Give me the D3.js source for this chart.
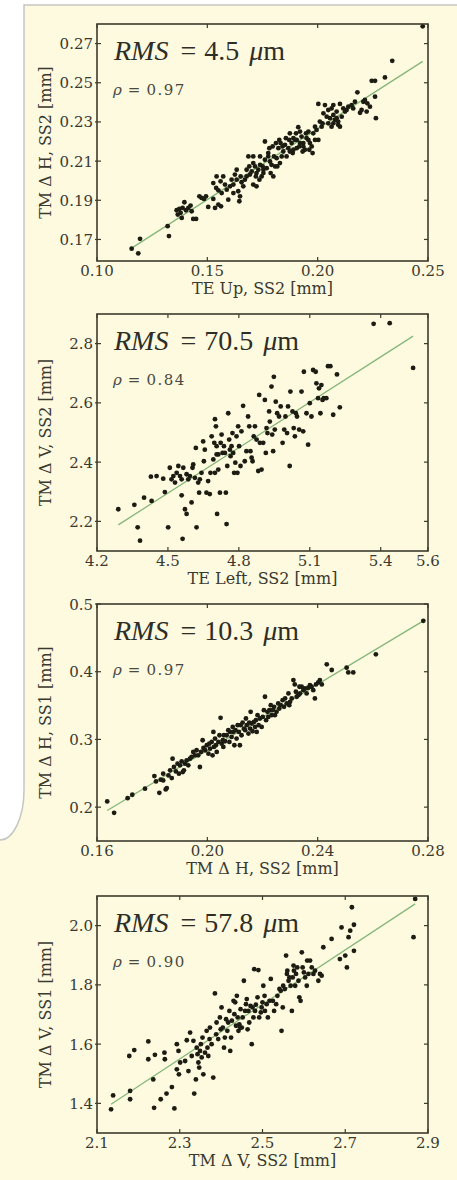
<!DOCTYPE html>
<html><head><meta charset="utf-8">
<script src="https://cdn.jsdelivr.net/npm/d3@7"></script>
<style>body{margin:0;background:#fdfadf;} svg{display:block}</style>
</head><body><svg id="c" width="457" height="1180"></svg>
<script>
// ---------- DATA ----------
const xTitles = ["TE Up, SS2 [mm]", "TE Left, SS2 [mm]", "TM \u0394 H, SS2 [mm]", "TM \u0394 V, SS2 [mm]"];
const yTitles = ["TM \u0394 H, SS2 [mm]", "TM \u0394 V, SS2 [mm]", "TM \u0394 H, SS1 [mm]", "TM \u0394 V, SS1 [mm]"];
const rmsValues = ["4.5", "70.5", "10.3", "57.8"];
const rhoValues = ["0.97", "0.84", "0.97", "0.90"];
const xDomains = [[0.10, 0.25], [4.2, 5.6], [0.16, 0.28], [2.1, 2.9]];
const yDomains = [[0.159, 0.280], [2.1, 2.9], [0.15, 0.50], [1.3, 2.1]];
const xTicks = [[0.10, 0.15, 0.20, 0.25], [4.2, 4.5, 4.8, 5.1, 5.4, 5.6], [0.16, 0.20, 0.24, 0.28], [2.1, 2.3, 2.5, 2.7, 2.9]];
const xTickLabels = [["0.10", "0.15", "0.20", "0.25"], ["4.2", "4.5", "4.8", "5.1", "5.4", "5.6"], ["0.16", "0.20", "0.24", "0.28"], ["2.1", "2.3", "2.5", "2.7", "2.9"]];
const yTicks = [[0.17, 0.19, 0.21, 0.23, 0.25, 0.27], [2.2, 2.4, 2.6, 2.8], [0.2, 0.3, 0.4, 0.5], [1.4, 1.6, 1.8, 2.0]];
const yTickLabels = [["0.17", "0.19", "0.21", "0.23", "0.25", "0.27"], ["2.2", "2.4", "2.6", "2.8"], ["0.2", "0.3", "0.4", "0.5"], ["1.4", "1.6", "1.8", "2.0"]];
const fitSlopes = [0.723, 0.511, 2.443, 0.920];
const fitIntercepts = [0.0819, -0.004, -0.2048, -0.566];

const teUpVsDH = [[0.1157,0.1653],[0.1187,0.1629],[0.1195,0.1703],[0.132,0.1768],[0.1326,0.1717],[0.1361,0.1849],[0.1366,0.1827],[0.1373,0.1856],[0.1379,0.1836],[0.1388,0.1861],[0.1396,0.189],[0.1403,0.1849],[0.1414,0.1861],[0.1424,0.1873],[0.1429,0.1844],[0.1384,0.181],[0.1436,0.1805],[0.1449,0.1805],[0.1464,0.192],[0.1474,0.1912],[0.1485,0.1907],[0.1494,0.192],[0.1504,0.1866],[0.1527,0.1907],[0.1535,0.1861],[0.155,0.1878],[0.1562,0.1869],[0.1527,0.1988],[0.154,0.1963],[0.155,0.1951],[0.156,0.1997],[0.1572,0.2022],[0.158,0.198],[0.1588,0.1954],[0.1603,0.1971],[0.161,0.2005],[0.1618,0.198],[0.1625,0.2031],[0.1633,0.2056],[0.164,0.1946],[0.1645,0.1895],[0.1648,0.192],[0.1655,0.1992],[0.1663,0.1971],[0.167,0.2005],[0.1686,0.2124],[0.1678,0.2022],[0.1693,0.2031],[0.1701,0.2047],[0.1708,0.198],[0.1716,0.2073],[0.1723,0.2039],[0.1731,0.2056],[0.1739,0.2081],[0.1746,0.2022],[0.1754,0.2056],[0.1761,0.2107],[0.1769,0.2064],[0.1776,0.2124],[0.1784,0.2098],[0.1791,0.2081],[0.1761,0.22],[0.1776,0.2141],[0.1799,0.2022],[0.1807,0.2073],[0.1814,0.2115],[0.1822,0.2166],[0.1829,0.209],[0.1837,0.2124],[0.1844,0.2149],[0.1852,0.2183],[0.1859,0.2124],[0.1867,0.2166],[0.1874,0.2149],[0.1882,0.2192],[0.189,0.2158],[0.1897,0.2208],[0.1905,0.2166],[0.1912,0.2273],[0.192,0.2192],[0.1927,0.2225],[0.1935,0.2175],[0.1942,0.2158],[0.195,0.2217],[0.1958,0.2251],[0.1965,0.2192],[0.1973,0.2175],[0.198,0.2242],[0.1988,0.2208],[0.1995,0.2259],[0.2003,0.2392],[0.201,0.2302],[0.2018,0.2276],[0.2026,0.2344],[0.2033,0.2386],[0.2041,0.2327],[0.2048,0.2361],[0.2056,0.2319],[0.2063,0.2369],[0.2071,0.2336],[0.2078,0.231],[0.2086,0.2353],[0.2093,0.2285],[0.2101,0.2392],[0.2109,0.2327],[0.2124,0.2353],[0.2139,0.2378],[0.2154,0.2386],[0.2169,0.2403],[0.218,0.2451],[0.2192,0.2347],[0.2207,0.2403],[0.2214,0.2412],[0.2225,0.2395],[0.2245,0.251],[0.226,0.251],[0.2264,0.2319],[0.226,0.2429],[0.2305,0.2527],[0.2338,0.2612],[0.2476,0.2788],[0.1678,0.2056],[0.169,0.2073],[0.1708,0.209],[0.172,0.2022],[0.1736,0.2005],[0.1751,0.2073],[0.1781,0.2166],[0.1796,0.2175],[0.1811,0.2192],[0.1826,0.2208],[0.1841,0.2175],[0.1856,0.2217],[0.1871,0.2208],[0.1887,0.2141],[0.1902,0.2242],[0.1917,0.2175],[0.1932,0.2149],[0.1947,0.2242],[0.1962,0.2158],[0.1977,0.2141],[0.1542,0.2022],[0.1565,0.1937],[0.1595,0.1903],[0.1618,0.1937],[0.1633,0.2005],[0.1651,0.2022],[0.1708,0.2124],[0.1723,0.1971],[0.1739,0.2124],[0.1754,0.2039],[0.1787,0.2039],[0.1802,0.2124],[0.1817,0.2073],[0.1832,0.2192],[0.1874,0.2242],[0.189,0.2217],[0.1905,0.2208],[0.192,0.2251],[0.1935,0.2192],[0.1958,0.2208],[0.1988,0.2276],[0.2003,0.2208],[0.2022,0.2293],[0.2048,0.2293],[0.2063,0.2276],[0.2071,0.2293],[0.2086,0.2319],[0.2093,0.2302],[0.2101,0.2276],[0.2116,0.2369],[0.2131,0.2361],[0.2161,0.2369],[0.2199,0.2361],[0.2222,0.2353],[0.2237,0.2378],[0.2071,0.2386]];

const teLeftVsDV = [[4.290,2.241],[4.358,2.256],[4.372,2.180],[4.382,2.135],[4.399,2.280],[4.431,2.269],[4.428,2.351],[4.452,2.353],[4.480,2.344],[4.487,2.299],[4.501,2.180],[4.515,2.342],[4.523,2.353],[4.530,2.331],[4.508,2.381],[4.537,2.364],[4.544,2.387],[4.551,2.353],[4.558,2.342],[4.562,2.141],[4.558,2.288],[4.565,2.381],[4.572,2.241],[4.579,2.225],[4.586,2.342],[4.579,2.359],[4.593,2.353],[4.600,2.264],[4.604,2.381],[4.607,2.392],[4.614,2.347],[4.618,2.448],[4.621,2.180],[4.628,2.331],[4.632,2.297],[4.635,2.342],[4.642,2.364],[4.649,2.470],[4.652,2.403],[4.656,2.442],[4.663,2.297],[4.670,2.336],[4.677,2.292],[4.680,2.364],[4.685,2.487],[4.692,2.409],[4.696,2.465],[4.699,2.364],[4.706,2.426],[4.708,2.225],[4.713,2.375],[4.706,2.454],[4.703,2.521],[4.699,2.545],[4.713,2.426],[4.720,2.297],[4.723,2.465],[4.727,2.493],[4.731,2.431],[4.737,2.454],[4.741,2.431],[4.745,2.297],[4.748,2.191],[4.751,2.387],[4.755,2.565],[4.759,2.476],[4.762,2.442],[4.765,2.420],[4.769,2.454],[4.773,2.498],[4.776,2.431],[4.780,2.364],[4.785,2.398],[4.790,2.487],[4.794,2.364],[4.797,2.521],[4.801,2.454],[4.807,2.387],[4.811,2.504],[4.818,2.590],[4.825,2.403],[4.832,2.437],[4.839,2.554],[4.844,2.521],[4.849,2.437],[4.854,2.415],[4.858,2.403],[4.863,2.487],[4.868,2.521],[4.875,2.476],[4.882,2.370],[4.886,2.627],[4.889,2.465],[4.896,2.375],[4.903,2.465],[4.910,2.610],[4.914,2.431],[4.917,2.515],[4.921,2.498],[4.928,2.571],[4.931,2.537],[4.938,2.655],[4.941,2.493],[4.945,2.437],[4.948,2.688],[4.952,2.510],[4.956,2.604],[4.962,2.565],[4.970,2.554],[4.977,2.588],[4.985,2.465],[4.992,2.510],[4.997,2.554],[5.004,2.498],[5.008,2.588],[5.015,2.387],[5.018,2.638],[5.027,2.571],[5.032,2.515],[5.037,2.487],[5.041,2.565],[5.046,2.554],[5.055,2.510],[5.065,2.638],[5.072,2.504],[5.075,2.705],[5.086,2.565],[5.093,2.459],[5.100,2.599],[5.107,2.554],[5.114,2.711],[5.125,2.705],[5.128,2.666],[5.135,2.616],[5.139,2.649],[5.145,2.565],[5.149,2.660],[5.154,2.610],[5.159,2.616],[5.170,2.616],[5.177,2.724],[5.187,2.724],[5.199,2.560],[5.215,2.696],[5.227,2.585],[5.537,2.718],[5.370,2.867],[5.438,2.869]];

const dhSS2VsSS1 = [[0.1637,0.2084],[0.1662,0.1916],[0.1711,0.2133],[0.1728,0.2183],[0.1774,0.2272],[0.1808,0.2459],[0.1814,0.238],[0.1826,0.2212],[0.1831,0.2405],[0.184,0.2395],[0.1849,0.2262],[0.1853,0.2281],[0.184,0.2494],[0.1859,0.2469],[0.1865,0.2543],[0.1871,0.243],[0.1874,0.2716],[0.1879,0.2593],[0.1886,0.2528],[0.1892,0.2642],[0.1897,0.2494],[0.1901,0.2617],[0.1907,0.2677],[0.1911,0.2519],[0.1915,0.2543],[0.1919,0.2642],[0.1925,0.2691],[0.1931,0.2617],[0.1937,0.2716],[0.1943,0.2741],[0.1949,0.2815],[0.1955,0.2765],[0.1961,0.284],[0.1967,0.2765],[0.1973,0.2593],[0.1977,0.2815],[0.1983,0.2988],[0.1986,0.2874],[0.1992,0.284],[0.1998,0.2914],[0.2004,0.279],[0.2007,0.2938],[0.201,0.2864],[0.2016,0.2963],[0.2019,0.2765],[0.2022,0.3111],[0.2024,0.2889],[0.2028,0.3012],[0.2031,0.2914],[0.2034,0.2815],[0.204,0.2963],[0.2044,0.3062],[0.2048,0.3319],[0.2052,0.2938],[0.2056,0.2988],[0.2058,0.2889],[0.206,0.3062],[0.2064,0.2973],[0.207,0.3062],[0.2076,0.3136],[0.208,0.2963],[0.2082,0.3111],[0.2088,0.3037],[0.2092,0.3185],[0.2094,0.3111],[0.2098,0.2914],[0.2102,0.3136],[0.2106,0.3012],[0.211,0.321],[0.2114,0.3111],[0.2118,0.2914],[0.2121,0.321],[0.2124,0.3062],[0.2128,0.3249],[0.2133,0.316],[0.2137,0.3136],[0.214,0.3309],[0.2143,0.321],[0.2149,0.3086],[0.2152,0.3249],[0.2155,0.316],[0.2157,0.3407],[0.2161,0.3235],[0.2164,0.3121],[0.2169,0.3259],[0.2173,0.3185],[0.2176,0.3284],[0.2179,0.3111],[0.2182,0.3358],[0.2186,0.321],[0.2191,0.3309],[0.2197,0.3185],[0.2201,0.3333],[0.2205,0.3432],[0.2209,0.363],[0.2213,0.3284],[0.2218,0.3407],[0.2221,0.3333],[0.2225,0.3432],[0.223,0.3506],[0.2233,0.3358],[0.2237,0.3432],[0.2242,0.3481],[0.2245,0.3358],[0.2251,0.3407],[0.2257,0.3531],[0.2261,0.3457],[0.2266,0.3506],[0.2273,0.358],[0.2278,0.3481],[0.2282,0.3605],[0.2288,0.3531],[0.2294,0.3679],[0.2297,0.3506],[0.23,0.3556],[0.2306,0.3605],[0.2312,0.3877],[0.2317,0.3812],[0.2321,0.3704],[0.2324,0.363],[0.233,0.3654],[0.2334,0.3778],[0.2336,0.3679],[0.2342,0.3778],[0.2348,0.3728],[0.2354,0.3753],[0.236,0.3679],[0.2366,0.3763],[0.2372,0.3802],[0.2378,0.3778],[0.2384,0.3728],[0.239,0.3605],[0.2394,0.3812],[0.2402,0.3842],[0.2408,0.3877],[0.2415,0.3812],[0.2433,0.4109],[0.2451,0.4025],[0.2505,0.4059],[0.2511,0.399],[0.2529,0.399],[0.2611,0.4257],[0.2783,0.4751]];

const dvSS2VsSS1 = [[2.134,1.380],[2.139,1.427],[2.178,1.560],[2.180,1.442],[2.180,1.414],[2.190,1.580],[2.224,1.609],[2.224,1.549],[2.236,1.481],[2.238,1.385],[2.240,1.564],[2.254,1.414],[2.263,1.571],[2.264,1.549],[2.268,1.433],[2.281,1.455],[2.287,1.383],[2.293,1.600],[2.293,1.515],[2.297,1.577],[2.298,1.498],[2.301,1.538],[2.313,1.543],[2.317,1.613],[2.321,1.509],[2.325,1.639],[2.329,1.560],[2.333,1.611],[2.335,1.433],[2.339,1.481],[2.341,1.588],[2.343,1.566],[2.345,1.538],[2.347,1.521],[2.349,1.577],[2.351,1.600],[2.353,1.555],[2.355,1.622],[2.357,1.498],[2.361,1.571],[2.365,1.645],[2.367,1.588],[2.369,1.560],[2.372,1.617],[2.373,1.656],[2.377,1.600],[2.381,1.487],[2.385,1.771],[2.388,1.633],[2.389,1.673],[2.393,1.617],[2.397,1.690],[2.399,1.650],[2.401,1.724],[2.404,1.656],[2.407,1.588],[2.409,1.622],[2.412,1.684],[2.415,1.645],[2.417,1.673],[2.420,1.712],[2.422,1.577],[2.424,1.622],[2.426,1.679],[2.430,1.746],[2.432,1.701],[2.434,1.741],[2.436,1.662],[2.438,1.763],[2.440,1.690],[2.442,1.645],[2.444,1.667],[2.446,1.656],[2.447,1.718],[2.450,1.656],[2.452,1.690],[2.455,1.814],[2.458,1.712],[2.460,1.735],[2.462,1.752],[2.464,1.650],[2.466,1.712],[2.468,1.673],[2.471,1.729],[2.474,1.600],[2.476,1.724],[2.478,1.690],[2.480,1.853],[2.482,1.712],[2.484,1.733],[2.488,1.758],[2.490,1.850],[2.492,1.690],[2.496,1.707],[2.498,1.724],[2.500,1.741],[2.502,1.797],[2.505,1.763],[2.506,1.712],[2.510,1.735],[2.513,1.690],[2.517,1.746],[2.520,1.820],[2.525,1.746],[2.528,1.712],[2.533,1.735],[2.536,1.763],[2.541,1.786],[2.544,1.780],[2.546,1.645],[2.549,1.724],[2.550,1.797],[2.554,1.786],[2.557,1.899],[2.559,1.837],[2.560,1.848],[2.563,1.814],[2.565,1.825],[2.568,1.797],[2.571,1.712],[2.573,1.825],[2.575,1.865],[2.576,1.848],[2.579,1.797],[2.581,1.837],[2.584,1.859],[2.587,1.814],[2.589,1.758],[2.592,1.746],[2.595,1.910],[2.597,1.859],[2.600,1.842],[2.603,1.825],[2.607,1.797],[2.608,1.882],[2.611,1.837],[2.615,1.882],[2.619,1.859],[2.623,1.837],[2.627,1.848],[2.635,1.814],[2.639,1.837],[2.643,1.831],[2.647,1.927],[2.667,1.955],[2.687,1.887],[2.691,1.994],[2.700,1.899],[2.704,1.859],[2.708,1.961],[2.712,1.983],[2.716,2.062],[2.721,2.003],[2.721,1.915],[2.869,2.090],[2.865,1.961]];

const seriesList = [teUpVsDH, teLeftVsDV, dhSS2VsSS1, dvSS2VsSS1];

// ---------- LAYOUT ----------
const W = 457, H = 1180;
const plotLeft = 97, plotW = 331, plotH = 237;
const plotTops = [24, 314, 604, 896];
const BG = "#fdfadf", FRAME = "#3d3b2c", TXT = "#3a3930", DOT = "#1c1c12", FIT = "#86b67a";

const svg = d3.select("#c");
svg.append("rect").attr("width", W).attr("height", H).attr("fill", BG);
svg.append("path").attr("d", "M0,0 H457 V5 H24 V790 A24,50 0 0 1 0,840 Z").attr("fill", "#ffffff");
svg.append("path").attr("d", "M457,5 H24 V790 A24,50 0 0 1 0,840")
  .attr("fill", "none").attr("stroke", "#c6c6c2").attr("stroke-width", 1.5);

seriesList.forEach((data, i) => {
  const top = plotTops[i];
  const g = svg.append("g");
  const x = d3.scaleLinear().domain(xDomains[i]).range([plotLeft, plotLeft + plotW]);
  const y = d3.scaleLinear().domain(yDomains[i]).range([top + plotH, top]);

  // fit line
  const xe = d3.extent(data, d => d[0]);
  g.append("line")
    .attr("x1", x(xe[0])).attr("y1", y(fitSlopes[i] * xe[0] + fitIntercepts[i]))
    .attr("x2", x(xe[1])).attr("y2", y(fitSlopes[i] * xe[1] + fitIntercepts[i]))
    .attr("stroke", FIT).attr("stroke-width", 1.3);

  // points
  g.selectAll("circle.pt").data(data).enter().append("circle")
    .attr("cx", d => x(d[0])).attr("cy", d => y(d[1])).attr("r", 2.4).attr("fill", DOT);

  // frame
  g.append("rect").attr("x", plotLeft).attr("y", top).attr("width", plotW).attr("height", plotH)
    .attr("fill", "none").attr("stroke", FRAME).attr("stroke-width", 1.6);

  // ticks
  xTicks[i].forEach((t, k) => {
    const px = x(t);
    g.append("line").attr("x1", px).attr("x2", px).attr("y1", top + plotH).attr("y2", top + plotH - 4).attr("stroke", FRAME).attr("stroke-width", 1.2);
    g.append("line").attr("x1", px).attr("x2", px).attr("y1", top).attr("y2", top + 4).attr("stroke", FRAME).attr("stroke-width", 1.2);
    g.append("text").attr("x", px).attr("y", top + plotH + 15).attr("text-anchor", "middle")
      .attr("font-family", "DejaVu Serif").attr("font-size", 15).attr("fill", TXT).text(xTickLabels[i][k]);
  });
  yTicks[i].forEach((t, k) => {
    const py = y(t);
    g.append("line").attr("x1", plotLeft - 2).attr("x2", plotLeft + 4).attr("y1", py).attr("y2", py).attr("stroke", FRAME).attr("stroke-width", 1.2);
    g.append("line").attr("x1", plotLeft + plotW).attr("x2", plotLeft + plotW - 4).attr("y1", py).attr("y2", py).attr("stroke", FRAME).attr("stroke-width", 1.2);
    g.append("text").attr("x", plotLeft - 4).attr("y", py + 5.5).attr("text-anchor", "end")
      .attr("font-family", "DejaVu Serif").attr("font-size", 15).attr("fill", TXT).text(yTickLabels[i][k]);
  });

  // axis titles
  g.append("text").attr("x", plotLeft + plotW / 2).attr("y", top + plotH + 33).attr("text-anchor", "middle")
    .attr("font-family", "DejaVu Serif").attr("font-size", 16).attr("fill", TXT).text(xTitles[i]);
  g.append("text").attr("transform", `translate(51,${top + plotH / 2}) rotate(-90)`).attr("text-anchor", "middle")
    .attr("font-family", "DejaVu Serif").attr("font-size", 16).attr("fill", TXT).text(yTitles[i]);

  // annotations
  const rms = g.append("text").attr("x", plotLeft + 17).attr("y", top + 36)
    .attr("font-family", "Liberation Serif").attr("font-size", 28).attr("fill", "#2e2d26");
  rms.append("tspan").attr("font-style", "italic").text("RMS");
  rms.append("tspan").attr("dx", 12).text("=");
  rms.append("tspan").attr("dx", 8).text(rmsValues[i]);
  rms.append("tspan").attr("dx", 10).attr("font-style", "italic").text("\u03bc");
  rms.append("tspan").text("m");

  const rho = g.append("text").attr("x", plotLeft + 16).attr("y", top + 71)
    .attr("font-family", "DejaVu Serif").attr("font-size", 15).attr("fill", "#4a4940");
  rho.append("tspan").attr("font-style", "italic").text("\u03c1");
  rho.append("tspan").attr("dx", 6).text("=");
  rho.append("tspan").attr("dx", 6).attr("letter-spacing", 1.5).text(rhoValues[i]);
});
</script>
</body></html>
